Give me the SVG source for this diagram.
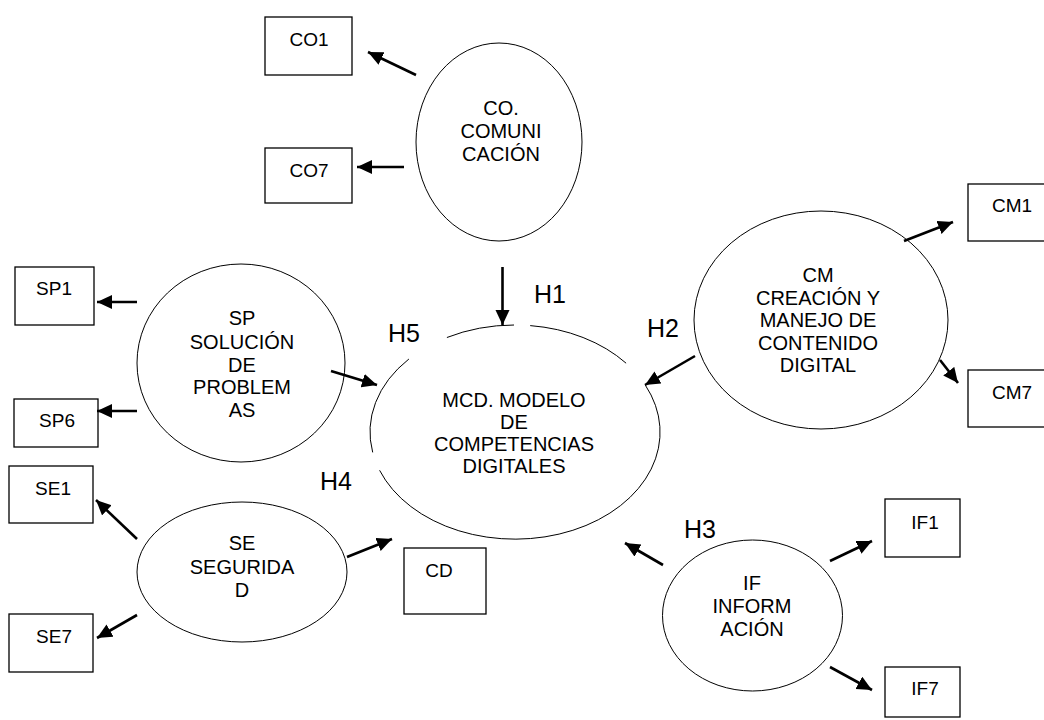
<svg xmlns="http://www.w3.org/2000/svg" width="1044" height="720" viewBox="0 0 1044 720">
<style>
.box{fill:#fff;stroke:#000;stroke-width:1.3}
.ell{fill:#fff;stroke:#000;stroke-width:1}
.arc{fill:none;stroke:#000;stroke-width:1}
.arr{stroke:#000;stroke-width:2.6;fill:none;marker-end:url(#ah)}
text{font-family:"Liberation Sans",Arial,sans-serif;fill:#000;text-anchor:middle}
.t{font-size:19px}
.e{font-size:20px}
.h{font-size:25px}
</style>
<defs>
<marker id="ah" markerUnits="userSpaceOnUse" markerWidth="16" markerHeight="15" refX="15" refY="7" orient="auto">
<path d="M0,0 L15,7 L0,14 z" fill="#000"/>
</marker>
</defs>
<rect width="1044" height="720" fill="#fff"/>

<g id="mcd">
<path class="arc" d="M530.2,325.6 A145,107 0 0 1 626.1,363.2 M645.3,385.1 A145,107 0 1 1 379.6,470.3 M372.7,452.4 A145,107 0 0 1 408.9,359.0 M446.9,337.5 A145,107 0 0 1 514.0,325.0"/>
<text class="e" x="514" y="407">MCD. MODELO</text>
<text class="e" x="514" y="429">DE</text>
<text class="e" x="514" y="451">COMPETENCIAS</text>
<text class="e" x="514" y="473">DIGITALES</text>
</g>

<g id="co">
<ellipse class="ell" cx="499" cy="142" rx="83" ry="99"/>
<text class="e" x="501" y="115">CO.</text>
<text class="e" x="501" y="138">COMUNI</text>
<text class="e" x="501" y="161">CACIÓN</text>
</g>
<g id="co1"><rect class="box" x="265" y="17" width="87" height="58"/><text class="t" x="309" y="46">CO1</text></g>
<g id="co7"><rect class="box" x="265" y="148" width="87" height="55"/><text class="t" x="309" y="177">CO7</text></g>

<g id="sp">
<ellipse class="ell" cx="241" cy="363" rx="104" ry="99"/>
<text class="e" x="242" y="325">SP</text>
<text class="e" x="242" y="349">SOLUCIÓN</text>
<text class="e" x="242" y="372">DE</text>
<text class="e" x="242" y="394">PROBLEM</text>
<text class="e" x="242" y="417">AS</text>
</g>
<g id="sp1"><rect class="box" x="15" y="267" width="79" height="58"/><text class="t" x="54" y="295">SP1</text></g>
<g id="sp6"><rect class="box" x="14" y="399" width="84" height="48"/><text class="t" x="57" y="427">SP6</text></g>

<g id="se">
<ellipse class="ell" cx="242" cy="572" rx="105" ry="70"/>
<text class="e" x="242" y="550">SE</text>
<text class="e" x="242" y="574">SEGURIDA</text>
<text class="e" x="242" y="597">D</text>
</g>
<g id="se1"><rect class="box" x="9" y="466" width="84" height="57"/><text class="t" x="53" y="495">SE1</text></g>
<g id="se7"><rect class="box" x="9" y="614" width="84" height="58"/><text class="t" x="54" y="643">SE7</text></g>
<g id="cd"><rect class="box" x="404" y="548" width="82" height="66"/><text class="t" x="439" y="577">CD</text></g>

<g id="cm">
<ellipse class="ell" cx="821" cy="320" rx="127" ry="109"/>
<text class="e" x="818" y="282">CM</text>
<text class="e" x="818" y="304.5">CREACIÓN Y</text>
<text class="e" x="818" y="327">MANEJO DE</text>
<text class="e" x="818" y="349.5">CONTENIDO</text>
<text class="e" x="818" y="372">DIGITAL</text>
</g>
<g id="cm1"><rect class="box" x="968" y="184" width="90" height="57"/><text class="t" x="1012" y="212">CM1</text></g>
<g id="cm7"><rect class="box" x="968" y="370" width="90" height="57"/><text class="t" x="1012" y="399">CM7</text></g>

<g id="if">
<ellipse class="ell" cx="752.5" cy="615.5" rx="90" ry="75.5"/>
<text class="e" x="752" y="590">IF</text>
<text class="e" x="752" y="613">INFORM</text>
<text class="e" x="752" y="636">ACIÓN</text>
</g>
<g id="if1"><rect class="box" x="885" y="499" width="75" height="58"/><text class="t" x="925" y="529">IF1</text></g>
<g id="if7"><rect class="box" x="885" y="667" width="75" height="50"/><text class="t" x="925" y="695">IF7</text></g>

<g id="connectors">
<line class="arr" x1="416" y1="75" x2="368" y2="52"/>
<line class="arr" x1="404" y1="167" x2="357" y2="167"/>
<line class="arr" x1="502.5" y1="267" x2="502.5" y2="325"/>
<line class="arr" x1="137" y1="302" x2="97" y2="302"/>
<line class="arr" x1="137" y1="411" x2="97" y2="411"/>
<line class="arr" x1="331" y1="371" x2="377" y2="385"/>
<line class="arr" x1="137" y1="539" x2="96" y2="500"/>
<line class="arr" x1="137" y1="615" x2="97" y2="638"/>
<line class="arr" x1="347" y1="557" x2="392" y2="539"/>
<line class="arr" x1="695" y1="356" x2="645" y2="385"/>
<line class="arr" x1="904" y1="241" x2="953" y2="222"/>
<line class="arr" x1="940" y1="360" x2="958" y2="383"/>
<line class="arr" x1="663" y1="565" x2="625" y2="543"/>
<line class="arr" x1="830" y1="561" x2="872" y2="541"/>
<line class="arr" x1="830" y1="667" x2="872" y2="690"/>
</g>
<g id="labels">
<text class="h" x="550" y="303">H1</text>
<text class="h" x="663" y="337">H2</text>
<text class="h" x="700" y="538">H3</text>
<text class="h" x="336" y="490">H4</text>
<text class="h" x="404" y="342">H5</text>
</g>
</svg>
